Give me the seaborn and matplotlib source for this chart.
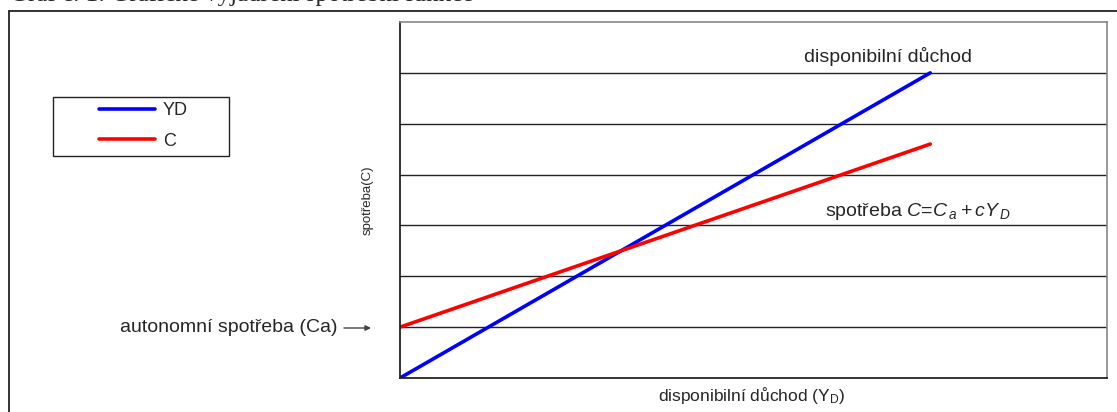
import matplotlib
matplotlib.use("Agg")
import matplotlib.pyplot as plt
from matplotlib.lines import Line2D
from matplotlib.patches import Rectangle
import seaborn as sns
import pandas as pd

# data (y in grid units)
disp_income = [0, 1, 2, 3, 4, 5, 6]
yd_values = [0, 1, 2, 3, 4, 5, 6]
c_values = [1.0, 1.6, 2.2, 2.8, 3.4, 4.0, 4.6]
series_names = ["YD", "C"]
series_colors = ["#0000ff", "#ff0000"]

sns.set_style("white")
plt.rcParams["font.family"] = ["Liberation Sans", "DejaVu Sans"]
plt.rcParams["mathtext.fontset"] = "custom"
plt.rcParams["mathtext.rm"] = "Liberation Sans"
plt.rcParams["mathtext.it"] = "Liberation Sans:italic"

W, H = 1117, 412
fig = plt.figure(figsize=(W / 100, H / 100), dpi=100)


def fx(px):
    return px / W


def fy(py):
    return 1 - py / H


ax = fig.add_axes([fx(400), fy(378), fx(1107) - fx(400), fy(22) - fy(378)])

df = pd.DataFrame({
    "x": disp_income * 2,
    "y": yd_values + c_values,
    "serie": [series_names[0]] * len(yd_values) + [series_names[1]] * len(c_values),
})
sns.lineplot(data=df, x="x", y="y", hue="serie", palette=series_colors,
             linewidth=2.6, ax=ax, legend=False)

ax.set_xlim(0, 8)
ax.set_ylim(0, 7)
ax.set_xticks([])
ax.set_yticks(range(1, 7))
ax.set_yticklabels([])
ax.tick_params(left=False, bottom=False)
ax.grid(axis="y", color="#222222", linewidth=1.0)
ax.set_xlabel("")
ax.set_ylabel("")
for side in ["left", "bottom"]:
    ax.spines[side].set_color("#222222")
    ax.spines[side].set_linewidth(1.3)
for side in ["top", "right"]:
    ax.spines[side].set_color("#888888")
    ax.spines[side].set_linewidth(1.2)

# legend: frame drawn by hand (behind), entries from matplotlib
fig.add_artist(Rectangle((fx(53), fy(156)), fx(229) - fx(53), fy(97) - fy(156),
                         transform=fig.transFigure, facecolor="none",
                         edgecolor="#222222", linewidth=1.0, zorder=-1))
handles = [Line2D([], [], color=c, linewidth=2.6) for c in series_colors]
leg = ax.legend(handles, series_names, loc="upper left",
                bbox_to_anchor=(fx(99), fy(102)), bbox_transform=fig.transFigure,
                frameon=False, fontsize=13, handlelength=3.1,
                handletextpad=0.45, borderpad=0, labelspacing=0.75,
                borderaxespad=0)

# texts
fig.text(fx(752), fy(395), r"disponibilní důchod (Y$_\mathrm{D}$)",
         ha="center", va="center", fontsize=12.5)
fig.text(fx(368), fy(200), "spotřeba(C)", rotation=90, ha="center",
         va="center", fontsize=9.5)
fig.text(fx(337), fy(327), "autonomní spotřeba (Ca)", ha="right",
         va="center", fontsize=14)
ax.annotate("", xy=(fx(371), fy(328)), xytext=(fx(344), fy(328)),
            xycoords="figure fraction", textcoords="figure fraction",
            arrowprops=dict(arrowstyle="-|>", color="#444444", lw=1.0,
                            mutation_scale=8, shrinkA=0, shrinkB=0))
fig.text(fx(888), fy(57), "disponibilní důchod", ha="center", va="center",
         fontsize=14)
fig.text(fx(918), fy(211), r"spotřeba $C\!=\!C_{\,a}+cY_{\,D}$", ha="center",
         va="center", fontsize=14)

# title line, clipped by the top edge as in the source
fig.text(fx(10), fy(0.5), "Graf č. 1: Grafické vyjádření spotřební funkce",
         ha="left", va="baseline", fontsize=18, family="Liberation Serif")

# outer frame (runs off the right and bottom edge)
fig.add_artist(Line2D([fx(9), 1.01], [fy(11), fy(11)], color="#222222",
                      linewidth=1.3, transform=fig.transFigure))
fig.add_artist(Line2D([fx(9), fx(9)], [fy(11), -0.01], color="#222222",
                      linewidth=1.3, transform=fig.transFigure))

fig.savefig("out.png", dpi=100)
